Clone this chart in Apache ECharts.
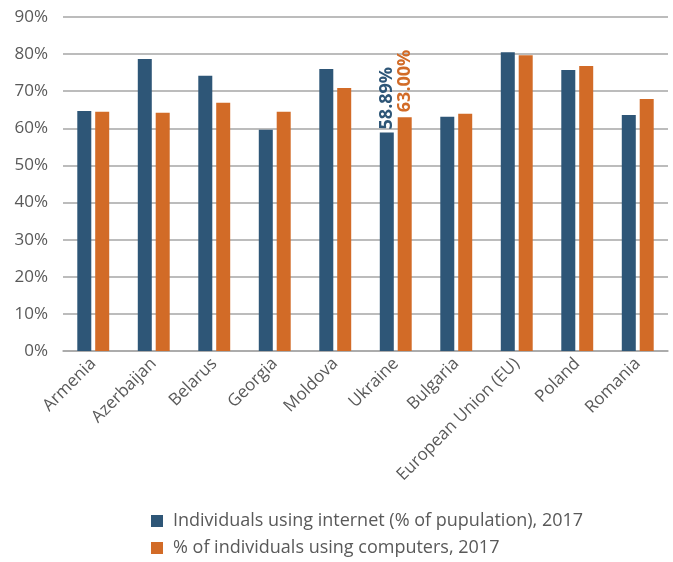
<!DOCTYPE html>
<html>
<head>
<meta charset="utf-8">
<script src="https://cdn.jsdelivr.net/npm/echarts@6/dist/echarts.min.js"></script>
<style>
  html, body { margin: 0; padding: 0; background: #ffffff; }
  #chart { width: 673px; height: 562px; }
</style>
</head>
<body>
<div id="chart"></div>
<script>
// Countries / regions shown on the category axis
const categories = ['Armenia', 'Azerbaijan', 'Belarus', 'Georgia', 'Moldova', 'Ukraine',
  'Bulgaria', 'European Union (EU)', 'Poland', 'Romania'];

// Share of population using the internet, 2017 (%)
const internetUse = [64.7, 78.7, 74.2, 59.6, 76.0, 58.89, 63.1, 80.5, 75.7, 63.6];

// Share of individuals using computers, 2017 (%)
const computerUse = [64.5, 64.2, 66.9, 64.5, 70.9, 63.00, 63.9, 79.7, 76.8, 67.9];

// Value axis ticks
const yMin = 0, yMax = 90, yStep = 10;

const seriesNames = [
  'Individuals using internet (% of pupulation), 2017',
  '% of individuals using computers, 2017'
];

const BLUE = '#2e5677';
const ORANGE = '#d26b27';
const TEXT = '#595959';
const FONT = '"Open Sans", Lato, sans-serif';

// Only Ukraine carries value labels
const highlighted = 'Ukraine';

function buildData(values, color, distance) {
  return values.map((v, i) => {
    if (categories[i] !== highlighted) return v;
    return {
      value: v,
      label: {
        show: true,
        position: 'top',
        rotate: 90,
        align: 'left',
        verticalAlign: 'middle',
        distance: distance,
        color: color,
        fontFamily: FONT,
        fontWeight: 'bold',
        fontSize: 18,
        formatter: p => p.value.toFixed(2) + '%'
      }
    };
  });
}

// One legend block per series, stacked under the plot
function legendRow(name, top) {
  return {
    orient: 'horizontal',
    left: 146,
    top: top,
    itemWidth: 12,
    itemHeight: 12,
    itemGap: 10,
    icon: 'rect',
    textStyle: { color: TEXT, fontSize: 18, fontFamily: FONT, padding: [0, 0, 0, 5] },
    data: [name]
  };
}

const chart = echarts.init(document.getElementById('chart'), null, { renderer: 'canvas' });

chart.setOption({
  animation: false,
  backgroundColor: '#ffffff',
  grid: { left: 63, right: 5, top: 17, bottom: 211, containLabel: false },
  legend: [
    legendRow(seriesNames[0], 507),
    legendRow(seriesNames[1], 534)
  ],
  xAxis: {
    type: 'category',
    data: categories,
    axisLine: { show: true, lineStyle: { color: '#a6a6a6', width: 1.5 } },
    axisTick: { show: false },
    axisLabel: {
      interval: 0,
      rotate: 45,
      margin: 10,
      color: TEXT,
      fontSize: 17,
      fontFamily: FONT
    }
  },
  yAxis: {
    type: 'value',
    min: yMin,
    max: yMax,
    interval: yStep,
    axisLine: { show: false },
    axisTick: { show: false },
    splitLine: { lineStyle: { color: '#a6a6a6', width: 1.5 } },
    axisLabel: {
      margin: 15,
      color: TEXT,
      fontSize: 17,
      fontFamily: FONT,
      formatter: v => v + '%'
    }
  },
  series: [
    {
      name: seriesNames[0],
      type: 'bar',
      barWidth: 14,
      barGap: '28%',
      itemStyle: { color: BLUE },
      data: buildData(internetUse, BLUE, 3)
    },
    {
      name: seriesNames[1],
      type: 'bar',
      barWidth: 14,
      barGap: '28%',
      itemStyle: { color: ORANGE },
      data: buildData(computerUse, ORANGE, 5)
    }
  ]
});
</script>
</body>
</html>
